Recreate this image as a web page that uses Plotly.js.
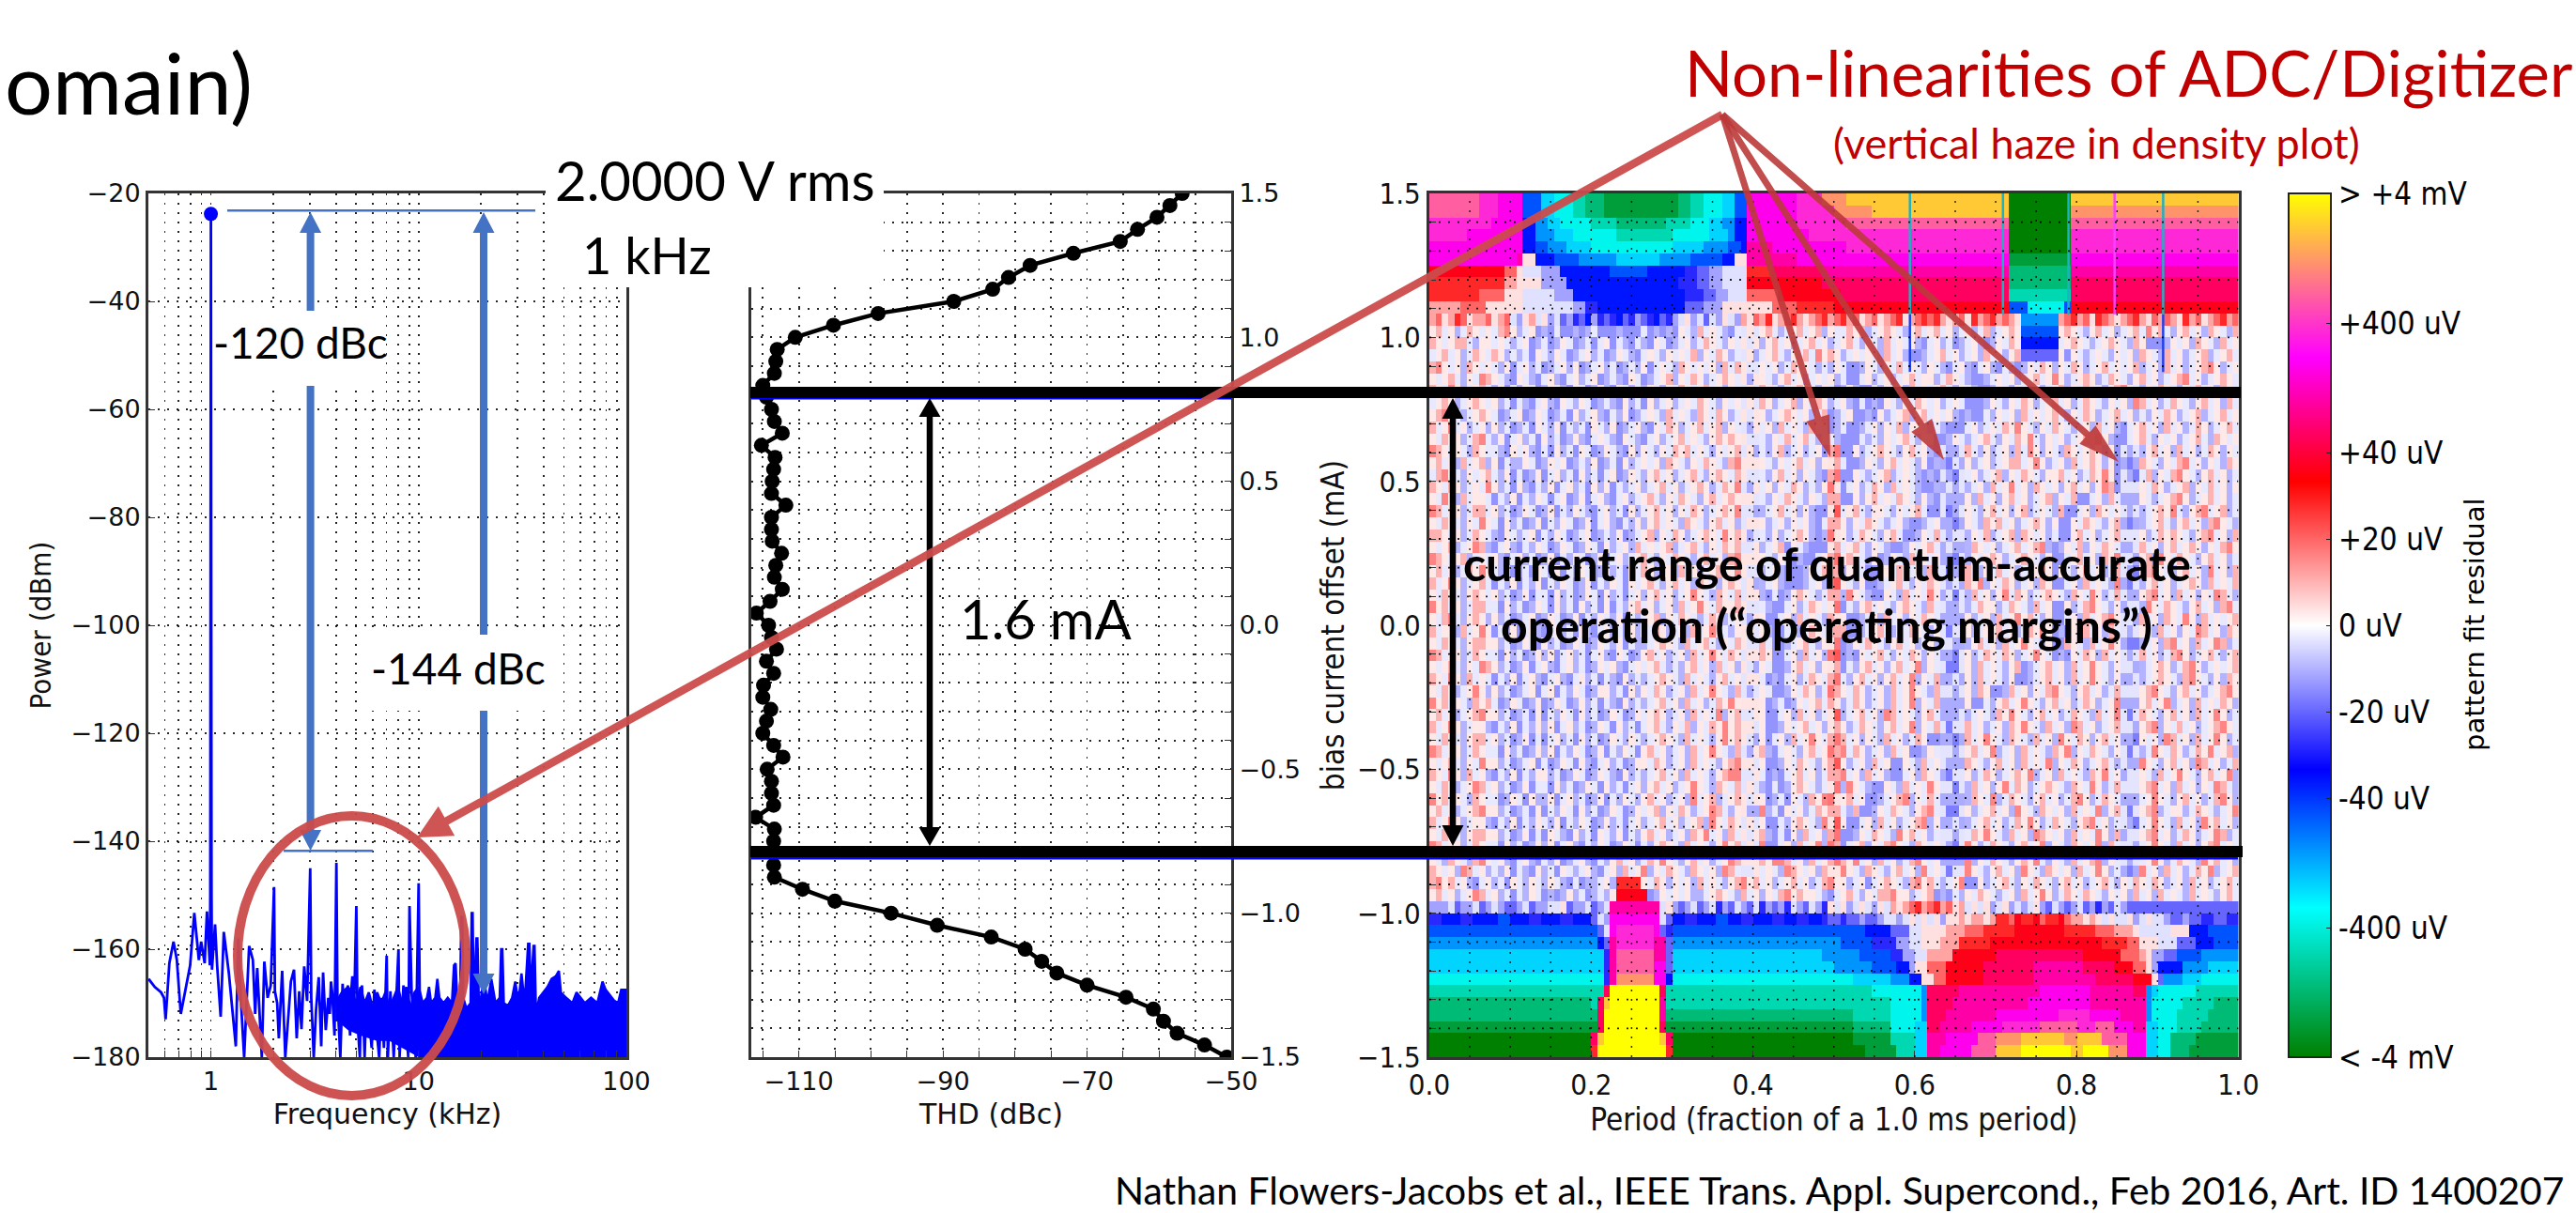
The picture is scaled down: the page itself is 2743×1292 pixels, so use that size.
<!DOCTYPE html>
<html><head><meta charset="utf-8">
<script src="https://cdn.plot.ly/plotly-3.0.0.min.js"></script>
<style>html,body{margin:0;padding:0;background:#fff}#g{width:2743px;height:1292px}</style>
</head><body><div id="g"></div>
<script>
const W=2743,H=1292;
// ---- spectrum (log10 kHz, dBm)
const specLogF=[-0.30,-0.27,-0.24,-0.226,-0.218,-0.20,-0.18,-0.164,-0.145,-0.10,
-0.08,-0.058,-0.047,-0.03,-0.019,-0.005,-0.003,0,0.003,0.005,
0.02,0.03,0.047,0.062,0.086,0.12,0.132,0.145,0.16,0.184,
0.202,0.213,0.223,0.245,0.257,0.273,0.288,0.304,0.308,0.319,
0.327,0.343,0.358,0.374,0.385,0.40,0.413,0.425,0.436,0.449,
0.463,0.478,0.483,0.495,0.506,0.519,0.531,0.54,0.553,0.565,
0.572,0.578,0.584,0.595,0.604,0.609,0.616,0.623,0.634,0.640,
0.646,0.652,0.659,0.67,0.675,0.681,0.69,0.70,0.706,0.717,
0.722,0.727,0.733,0.74,0.748,0.755,0.764,0.774,0.787,0.80,
0.81,0.821,0.833,0.846,0.852,0.864,0.88,0.903,0.908,0.927,
0.95,0.956,0.966,0.986,1.0,1.008];
const specP=[-165.5,-167,-168,-169,-173,-162.6,-158.6,-162,-172,-163,
-153.3,-162,-158.6,-162.6,-153,-163,-150,-23.5,-150,-163.8,
-155.4,-163,-172.5,-156.8,-164.3,-178,-158,-170,-180,-159.4,
-162,-172,-163.5,-180,-162.3,-169,-166.7,-148.5,-167.8,-170,
-176.5,-164,-180,-172.5,-166,-163.8,-176.5,-167.8,-174.8,-163.2,
-169.6,-145,-169,-180,-171.3,-165.2,-178,-164.3,-175,-169,
-172,-166,-168.1,-176,-144,-169,-174,-180,-166.4,-171,
-168,-172.5,-166.7,-176,-168,-165,-170,-152,-173.6,-180,
-169,-166.7,-172,-180,-170,-169,-174,-178.3,-167.5,-176,
-180,-169,-178.3,-161.2,-180,-167.8,-180,-160,-180,-166.7,
-180,-152,-167.8,-180,-147.8,-180];
const floorLogF=[0.60,0.66,0.72,0.80,0.86,1.0,2.0];
const floorP=[-173,-175,-176,-177,-177,-180,-180];
const envLogF=[0.60,0.63,0.66,0.68,0.70,0.72,0.74,0.76,0.78,0.80,0.82,0.84,0.86,0.88,0.90,0.92,0.94,0.96,0.98,1.0,1.02,1.04,
1.05,1.06,1.08,1.09,1.10,1.12,1.14,1.16,1.17,1.178,1.185,1.2,1.205,1.21,1.215,1.23,1.25,1.255,1.26,1.265,
1.278,1.283,1.29,1.3,1.315,1.33,1.35,1.37,1.39,1.397,1.403,1.41,1.43,1.45,1.465,1.48,1.495,1.51,1.527,1.533,
1.54,1.553,1.558,1.565,1.58,1.6,1.62,1.64,1.66,1.675,1.685,1.71,1.74,1.76,1.78,1.8,1.83,1.86,1.885,1.9,
1.92,1.94,1.96,1.975,2.0];
const envP=[-170,-168,-167,-168,-170,-167,-170,-168,-171,-168,-170,-168,-171,-169,-167,-170,-167,-171,-168,-167,-170,-169,
-167,-170,-169,-165.5,-169,-170,-169,-170,-163,-162.6,-169,-168,-154,-154,-169,-171,-170,-153.3,-153.3,-170,
-158,-158,-170,-169,-165,-170,-165.5,-170,-169,-160,-160,-170,-170.5,-169,-166,-170,-164.5,-170,-159,-159,
-168,-159.4,-159.4,-172,-169,-168,-167,-165.5,-165,-164,-168,-169,-170,-168,-169,-170,-169,-170,-166,-167.5,
-168.5,-169.5,-170,-167.5,-167.5];
const carrierF=[1], carrierP=[-23.8];
const freqTicks=[0.6,0.7,0.8,0.9,1,2,3,4,5,6,7,8,9,10,20,30,40,50,60,70,80,90,100];
const freqLabels=['','','','','1','','','','','','','','','10','','','','','','','','','100'];

// ---- THD vs bias current
const thdBias=[1.5,1.458,1.417,1.375,1.333,1.292,1.25,1.208,1.167,1.125,1.083,1.042,1.0,0.958,0.917,0.875,0.833,0.792,0.75,0.708,0.667,0.625,0.583,0.542,0.5,0.458,0.417,0.375,0.333,0.292,0.25,0.208,0.167,0.125,0.083,0.042,0,-0.042,-0.083,-0.125,-0.167,-0.208,-0.25,-0.292,-0.333,-0.375,-0.417,-0.458,-0.5,-0.542,-0.583,-0.625,-0.667,-0.708,-0.75,-0.792,-0.833,-0.875,-0.917,-0.958,-1.0,-1.042,-1.083,-1.125,-1.167,-1.208,-1.25,-1.292,-1.333,-1.375,-1.417,-1.458,-1.5];
const thdVal=[-56.8,-58.5,-60.3,-63,-65.4,-71.9,-77.9,-80.9,-83.1,-88.5,-99,-105.2,-110.5,-113,-113.2,-113.4,-115,-114.5,-113.8,-113.4,-112.3,-115.2,-113.3,-113.5,-113.7,-113.8,-111.8,-113.8,-113.8,-113.7,-112.4,-113.2,-113.4,-112.3,-114,-115.9,-114.2,-113.8,-113.1,-114.5,-113.5,-114.9,-115,-113.9,-114.5,-115,-113.5,-112.2,-114.4,-113.8,-113.8,-113.5,-116,-113.4,-113.5,-113.5,-113.5,-113.4,-109.5,-105,-97.2,-90.8,-83.3,-78.6,-76.3,-74.2,-70,-64.6,-60.8,-59.4,-57.5,-53.7,-50.6];
const thdGridX=[-115,-110,-105,-100,-95,-90,-85,-80,-75,-70,-65,-60,-55,-50];
const thdLabels=['','−110','','','','−90','','','','−70','','','','−50'];
const biasTicks=[-1.5,-1.4,-1.3,-1.2,-1.1,-1.0,-0.9,-0.8,-0.7,-0.6,-0.5,-0.4,-0.3,-0.2,-0.1,0,0.1,0.2,0.3,0.4,0.5,0.6,0.7,0.8,0.9,1.0,1.1,1.2,1.3,1.4,1.5];
const biasLabels=['−1.5','','','','','−1.0','','','','','−0.5','','','','','0.0','','','','','0.5','','','','','1.0','','','','','1.5'];
const periodGrid=[0.05,0.1,0.15,0.2,0.25,0.3,0.35,0.4,0.45,0.5,0.55,0.6,0.65,0.7,0.75,0.8,0.85,0.9,0.95];
const periodTicks=[0,0.2,0.4,0.6,0.8,1.0];
const periodLabels=['0.0','0.2','0.4','0.6','0.8','1.0'];

// ---- density plot: letter = colour level a..z, optional run length; top row first
const COLS=130, ROWS=72;
const upperRows=[
"w8 v3 u4 h3 f2 e3 d2 c3 b12 c2 d2 e3 f2 h2 u8 v4 x4 y26 a10 y27",
"w8 v3 u4 h3 f2 e3 d2 c3 b12 c2 d2 e3 f2 h2 u8 v6 x6 y22 a10 x27",
"v10 u5 i2 g2 f2 e5 d4 c8 d4 e3 f2 g2 i2 u8 v8 w26 a10 w27",
"v6 u9 i2 g3 f3 e7 d9 e6 f3 g1 i2 u10 v32 a10 v27",
"u15 i2 h2 g3 f4 e13 f5 g4 h2 i1 t4 u12 v26 a10 v27",
"u14 t1 n2 i3 h4 g6 f7 g5 h5 i2 n2 t8 u34 b10 u27",
"r12 p2 n1 m3 l3 i8 h6 i6 j2 k2 l2 m4 q4 s8 t30 c10 t27",
"q12 o2 n1 n3 l4 i18 j3 k2 l2 m4 r12 s30 c10 s27",
"q8 p4 n3 m5 l3 i18 j3 k2 l2 m3 p5 r10 s27 d10 s27",
"o5 p4 n6 m8 l2 j2 i14 k3 l3 n4 n4 p4 q6 r28 h3 e6 h1 r27",
"opnoqpnoop nopmlnomnl mkljkiljkj ikjlkjikjl mnlmkmlnml onpoqnopqo nopqopqopn opnopqnopq pqonopnqop qoponpqnop nopqopnqpo nopqonpopo nqopnopqop"
];
// each row: 13 groups of 10 columns
const noiseRows=[
"nomnlmonmn mopnlmnklk mjkljlmkjk lijkmkljlk nmlomnmlkm nomnomlmno mnolnmmono lmnonmlnom nomnlmnlmo lmnonmlomn mnonmlnomn lmnompnoml nomnlonmlo",
"onmnoomlnn mnmlmnklmk lnmklmkmnk mlkmlknmkl mnlmonmlnm onmlnomnlm nomnlmnoml nmlomnmnlk mnlmklmnlk lnmonmlnom lmnonmlmno nmlonjkjln mnlonmlomn",
"mnomnlmonm onlmlmknml nmklmnlmkl nmlkmnmlnm nmolnmonlm mnlmnomlnm ompnonlmnm nmlomnlkkl mnomnlmnlo mnlnomnlmk lnjnmlmnml nmnlonmlom nlmnolmnom",
"opnmnlonmn mlnkmnlmkl mnlnklmnlm klmlnkmnml onmnmnlomo nponmnlmon nmlmlnmkjl nmlnmomnml nmlkmnlkmn lkmlklnmon lnmonlmnom nmnolmnlom nlmnopnlmn",
"nmnomlnmpo nmlknmlkmn lkmnlmnklm lknmklmnol nmonlmnonm nmqnmlnomn lmnmnlmkkm nlmnlmnomn nlmonmlkjl mnmnlmnomn pnlmnonlmo nmlnomnlmn opmnlmnonm",
"onmpnlmnom lnkmlnmkln mlknmklnlk nmlmlnmlnm onmnomnlnm nqponmlmno nmlnmklnlk kmlnmnlomn mnomlnmlkj lnmlnmonlm nolnmonmln opnmlnmonm lnmomnlonm",
"mnonlmnonm nlmkmlkmnl knmlnmklml knlmknlmnl mnmonmlnmn opqonlmnol nmonlmnlkm jlknmlnmon mnlmnmkkjl nmlnmonlmn omnlmonmln mnlpomnlmo nmlnomnlom",
"nopnmlmnon mklmnklnmk lmknlmnlkm lnklmnmlom nmlonmonlm qomnlmnonm nlmoklmnkj lknlmnolno mnmnlkljkm lnmnlomnmn omlnmonlmn omnlmlnmon lmnolmnomn",
"omnpmnlmnl nlmklmknml nkmlmknmln klmnlknmon lmnomnolnm ponmnlomnm lonmklmkjl mnlnmolnnm lmlkkjmnlm nmonpnmlnm onmlmnlomn lkmnomnlom nlmonlmnom",
"nmonnlmopm lnkmnlmknl mklnlkmnml knmlkmnlmn omnmlnonon qpnmlnmomn omlnmljkkm lmlnmnomln mkjlnmlmno mlnmonpmln mnlmnoopnl jkmnomlnmn lmnomlonmn",
"ponmnmlonm mlknmnlkmk nlmknmklnm lknlnmlnmo nomnmlnmno pqnmlnolmn lmnkmlkjnl mnonmlnomn lkjlmnomln lmnlompnln mlonmnonln kkmnlnomnl omnlmonlnm",
"nomnlomnol nkmllnmkln mnklmlnklm knlmnmnlon mlnmonmlop qponmlnmno mnlnlkmjkl nmlnomnmln kljnmonlmn lmnoomnpnl mnlomnonln kljmonmlnm opmnlnmlon",
"mopnmlnmno mlnkmklnkm nlmknlmkmn klnmlnomnl mnomlnonmo pqnmlnomnl nmlkklkjnm lmnolmnmlk ljnmonmnlm nolnmonmln nomnlmonpn jklnmolnmo pnmlnomnlm",
"onmonlmnmp nlmknlkmln kmnlmknlnk mlmnlmnomn lmnonlmonp onlmnlnmon lmlnjkjmnl monlomnmlk jlnmonlmnl omnpmnlonm nlnomnlnpo kjmlnmonlm nolnmomnln",
"nmpnlomnnm kmlnkmlnmk mnklnkmnlk mnlmnomlnm onmlnomnon qnpmlnmonm lnmlkmjknl nomnmonmln lkjnlmnlom nlnomnlmno lnmokjmnlo mnlonmlmno pnlmnomnlm",
"pomnnlmoom nlmklnmkln kmlnmlkmnl mknlmnomnl nmonlmnonq ponlmnomnl nlkjlkmnom lnnmlnmnom kjlnmonmln omnlnolmnm lokjmnlonm nomnlmnonp mlnopmnolm",
"nmonmlnmpn mknlmklnkm lnmklnkmnl kmlnlnomnm lonmlnomnl oqonlmnlnm nlkmjknlnm onmlmnlkjl mnlmnonmlo nomnlmnonl nkjnmonmln opnmlmnoml nomnlopnml",
"oonmnlmonm lknmlmnkml nmklmnklml nklmnolnmo nlmnonmpno nqnmlnlmno nlkljknlmo nmlnomkjln monmlolnmo lmnolonmnl mkjnomnlmn onpmnlmono nmlnopmnlo",
"nmnolmnpol kmnlkmlnmk lnmklnmknl mnlomnmnol mnomlnmono pqnlmnoknm lkjklnmnom lnmlkjlnmn omnlmnlonm nlmnomnopl jlnmolnmon mlnpomnlno mnonlnmopn",
"ponmnolmnm nlkmnlmkln kmlnmklnkm nlmnomlnmo nmlnomnlop qopnmlnmkl kjmnlmnonm lnklnmlomn mnlmomlnmn onlmnonmln jkmnomnlon pmnlnolpnm onmlnomnlm",
"nomnlmonpn mlnklmknml nkmlnmklnl mknmonlmnl omnlmnomnp qonlmnlkjk lnmonmlnom kjlnmonmnl omnlmnomln momnlmonpn jnmlnomnlm onmlnopnml nomnlpmnlo",
"omnpnlmnom kmlnkmlnkm lnmklnkmln mknmnomlno mnlonmlnon qpnlmnlkjk lmnlmonmln kjlmnomlnm onmlnmonpl nmonlmnlon kjmnlomnml ponmlnomnl mnonlomnmo",
"nmonmlnonm nlmklnkmmk nlmklnmknl mkmnlnomnl mnpnmlonmo qpnljmklno nmlmonlpnm lkjnmlomnm pnlonmlomn lnpmonlmno nmlonmpnlm onlmnopmnl omnlnmpoml",
"pnomnlmoom mknlmklnmk nlmknlmknk mlnomnlmnl omnpnmonno qpnmlkjmnl monmlnkmln omnmlnonml omnlmnlmon nlmonmlomn kjnlmopnml nomnlpnmon mlnomnlopm",
"nmopmlnonl nlmklmnkln mklnkmlnml nkmlmnolnm onmlmonlmn pqonkjmnlo mnmlmonkjl mnlomnlnmo nmlnomnlmn lomnpnomln kjmnlomnop nmlnomnlon mpnlomnmno",
"omnnlomnpn kmlnkmnlkm nlmknlkmnl mknlnmonlm nlomnpnmln oqonlkjmnl monmlnokjl mnomlnmonm lnmlomnlmn nomnlmonpn kljnmomnlo mnopnmlomn lnmpomnlon",
"nmonmlnoon nlmklnmknl mklnmklnml nkmllmnonm lomnomlnmo npqomkjlmn omlnmkjlnm onmlnomnlm nlomnmlnom nlomnpnmln kjonmlomnp nomnlmnlop mnlomnpolm",
"pomnnlmonm mknlmklnln kmnlmkmnlk nmklnomnlm nlomnpnmon oqponkjmnl omnlnmkljn mnomlnmonl nmlnomnlmo nmonlmnpnm kljnmonlom nmlnomnlmo pnlmnomlno",
"nmnomlnmpo nlmklnkmnl kmnlmklnmn lkmnmnomlm lnomnlomnl nqpnmjklno mnlnojkmln omnlnomnpl nmonlmnlom nmlnoklmno mnlomnpnml nomnlmnonl mopnlmnmno",
"onmpnlomnm kmlnkmnlkm nlkmnlmkml knlmlmnonm lomnmlnomn pqnmkljmnl monmlkmlno mnlnomnpln momnlmnlom nmlnkjlmno mnlomnpnml nomnlmnonm lopnmlnlon",
"nmonlmnpnl nlmklmnkmn kmlnmklnnl mknlnmonlm nlomnpnmlo opqnmjklnm onlmklnmon lmnlomnpnm lomnlmnlon jklomnlnmo pnmlnomnlm onlmnopnml nomnlmnopn",
"pnomnmlono mklnmklnkl nmklnlmkml knlmlmnomn lomnlmonpn oqonklmjln mnomnmlmon lmnlomnpln momnlmnkjm lnomnpnmln omnlmonlmn pnmlnomnpl mnlomnmonl",
"nomnlmnopn nlmklmknkm lnmknlmkln mklnmnonlm nlomnmplno opqnkjmnlo mnlmnolmno mnlpomnmln omnlkjlmnm lonpnmlnom nlmonmlomn plnmonmlno mnlomnpnlm",
"omnpnlmnnl kmlnkmlnln kmnlmklnmk nlmkmnomln molnmonpno qponjklnmn omnlomnlmo nmlnomnpln mokjlnomnl mnlonpnmlo mnlpomnlmn onmlnoplnm omnlmnopnm",
"nmonmlnoom nlmklnkmkm nlmknlmkln mlnmlmnonm lomnmlnpno oqpnkmnlom npnmlnomnl nmlomnlmon kjlmnlomnp nmlonmlomn lpnmonlnom nmlonmnlpo mnlomnpnlm",
"pomnnlmonm mknlmklnln kmlnmklnkm lnmknomnlm nlomnpnmlo npqolkmnml nomnlnpmon lmnlomnkjl nmonmlnomn plmnlomnml onplnmonml nomnlmpnmo nlmonpmnol",
"nmnomlnmpn nlmklmnkmk lnmknlkmnl mklnnmonlm nlomnmlnop oqonkjlnmo nmlnomnlmn lomnkjnmlo mnpnlmonml nomnlomnmp lnmonlmnom lnmopnmlno mnlpomnlmo",
"onmpnlomnl kmlnkmlnnl mklnmklnml knlmlmnomn lomnmlnopq npnmkljmno mnlmonpmnl omnlkjmnlo nmlpomnlmo nlmnonplmn lomnmlonpm nlmonmlomn pnmlnomnpl",
"nmonlmnpom nlmklnkmmk nlmklnmknl mkmnlnomnl mnpnmlonmo qpnljmklno nmlmonlpnm lkjnmlomnm pnlonmlomn lnpmonlmno nmlonmpnlm onlmnopmnl omnlnmpoml",
"pnomnmlonm mklnmknlln kmnlmklnkm lnmlnomnlm nlpmnolmno oqpnklmjnm lonplmnomn kjlmnoplnm omnlmnlonm plmonmlnom nlmopnlmon mlnomnpnml nomnlmopnl",
"nomnlmnopn nlmklmknkm lnmknlmkln mklnmnolnm onlmnpomln nqoplmknmn lmonpnmlok jlnmonmlno pmnlomnlmn omnlpnmlon mnlomnmpln omnlnoplmn nlmonmlmnp",
"omnpnlmnnl kmlnkmlnml nkmlnmklnl mkmnlmnomn lmnolpnmon opqnjkmlno nmlpomnkjm nlomnlmnop lnmonplmno mnlmonpnlm onmlnopmnl mnlomnpnml omnlpnomnl",
"nmonmlnoon nlmklnkmkn mlknlmknml nkmlnomnlm nlonpmnlom pqnolkmjnl omnlmokjln monmlpnomn lmnonlmonp nmlomnlpon mnlomnmpnl omnlnopmnl monlmnpolm",
"pomnnlmonm mknlmklnln kmnlkmlnmk lnmkmlnonm lomnmlnpno oqnpkjmnlo mnplmjkmno lnmopnmlon mnlomnpnlm onmlnomnpl nmlonmnplo mnlomnpnml omnlnopmnm",
"nmlonmlopn mnlkmnlkml nklmnlkmln omnlmonpnm lnomnlmnpo nmlonpqomn lomnmlonpm nlomnlmopn mnlomnplnm onmlnonpml nmlomnopln mnlomnpnlm onmlpnomnl",
"onmnlpomnl mlnkmlknlm knmlmnlkmn lomnplnmon mlonmnlpom nlomnmlpon mnlomnpnml onmlnomnlp mnlomnpnml nomnlpnmlo nmnlomnpnl mlonpmnlom nlmonplmno"
];
// vertical haze below about 0.6 mA: per column one level per noise row, '.' = leave as is
const hazeCols=[50,51,52,64,65,82,83,84,85,111,112,113];
const hazeLevels=[
"mnmnnmmnmnmnnmnmmnmnnmmnmnnmnmmnmnnmnmmnnmnmnmn",
"nmnmlnnmlmnnmlnmnlmnmnnmlnmnmnlnmnmlnmnmlnmnnml",
"mnlmnmmnnmlnmnmlnmnnmlnmnmmnlnmnnmlnmnmnlmnmnnm",
"..........onoponopnooponoonpnoponnopoonponoponn",
"..........popnoqonopoqopnopqoponqopoqopnoqpopno",
"..........mlmlmmlmllmmlmlmmlmlmllmlmmlmlmlmmlml",
"..........lklmlkllmlklmllkmlklmllklmlkmlklmllkl",
"..........lmklllkmlklmkllmlkkmlllmkllmklkmlklmk",
"..........mlmmlmlmlmmlmmlmlmmlmlmmlmlmmlmlmmlmm",
"..........mlmmlmlmlmmlmlmmlmmlmlmmlmmlmlmmlmmlm",
"..........lklmllkmlmlklmmlklmlmlkmlklmmlklmmlkm",
"..........mlkmlmlmmlkmlmlmkmlmmlmlkmlmmlmkmlmlm"
];
const lowerRows=[
"opnomnlkmn lmknmlnmln mlkmkllmnl qqqqnmonln mnlomnmlno pnomnlmnom nlmopnnlmn kmnonmlopn omlmnpjknl mnomlnmonm lnomnlmnom lnmonmonlm nlomnlmnom",
"nomnlmnpom nlmkmlnmkl klnlmklmln rrrrrklnmn mnllmnonml omnlnmopno nnmlkmnoml nmoopnnlmn ojlkmlnmon mlmnlomnpn lmonmonmln mnlomnlomn mlomnmlnom",
"l3 m1 k1 l2 m1 k1 l1 m1 l1 k2 l1 m1 k1 l2 m2 n1 k1 l2 m1 k1 l1 m1 t8 m1 n1 l1 k1 l1 m1 k1 l1 m1 j1 l1 k1 m1 l1 k1 m1 j1 l1 k1 l1 j1 m1 l1 k1 m1 l1 j1 n1 m1 n1 l1 m1 n1 m1 l1 n1 m1 o1 n1 o1 p1 q1 o1 p1 q1 o1 p1 n1 o1 m1 n1 m1 n1 l1 m1 n1 l1 m1 l1 m1 n1 l1 k1 m1 l1 k1 l1 m1 k1 l1 j1 l1 k1 m1 l1 k1",
"j2 i3 j2 i4 h2 i3 j2 i3 j2 i3 k1 m1 l1 u8 m1 k1 i2 j2 i3 h2 i2 j2 i3 j2 i2 j2 i2 j1 k2 j1 k2 l1 k2 l1 m2 l1 m1 n1 m1 n1 m1 n1 l1 n2 o1 n1 o2 n1 o1 q2 p1 r1 q2 r1 p1 q2 r1 p1 o2 n1 o1 n1 m1 n1 m2 n1 l1 m1 n1 m2 l1 k2 l1 k2 j2 k2 j2",
"h27 k1 m1 u1 v6 u1 k1 j1 h31 i4 k3 m2 n4 o3 p3 q5 r8 q5 p3 o3 n1 m5 n3 i3 h4",
"g27 i1 k1 t1 v6 t2 k1 g27 h5 j4 l2 m2 n3 o3 q5 r18 q4 p2 n3 m3 k3 i3 h3",
"f28 j1 t1 w6 t2 k1 f24 g6 h5 j2 l2 m2 o4 r7 s14 r6 p3 o1 n1 l2 k2 h4 g6",
"f28 j1 t1 w6 u2 k1 f26 g6 h4 i2 l1 n2 p3 r6 s8 t8 s5 r3 p2 n1 l1 i4 g4 f5",
"e28 j1 t1 x6 u2 i1 e29 f6 g3 i2 n2 p2 r6 s8 t10 s6 r3 n1 k1 g3 f3 e7",
"d28 s1 z8 s1 d33 e8 g1 s5 t13 u8 t7 s2 g1 f1 e6 d7",
"c26 d1 s1 y1 z8 t1 d30 d6 e5 g1 s4 t12 u10 t9 g1 e5 d5 c4",
"c27 s1 z9 t1 c30 d6 e5 g1 s3 t8 u10 v5 u5 t4 g1 e4 d5 c5",
"b27 s1 z9 s1 b30 c6 e4 f2 s2 t5 u5 v6 w6 v3 w3 u3 t2 f2 e3 d4 c6",
"a26 s1 y1 z9 y1 s1 a29 b6 d4 f2 t3 u5 w3 x4 y7 x2 y4 w4 u3 f2 e2 c4 b7",
"a26 q1 z11 q1 a31 b5 d3 f2 t2 u5 w4 y4 z8 y2 z4 x3 u3 f2 e2 c3 b8"
];
// plume under the green column: row index, level
const plumeRows=[10,11,12,13];
const plumeLevels=['g','h','i','k'];
const plumeCols=[95,96,97,98,99,100];
const noiseLevel={i:.43,j:.43,k:.43,l:.45,m:.485,n:.515,o:.55,p:.58,q:.58};
const residualScale=[[0,'#008000'],[0.173,'#00ffff'],[0.333,'#0000ff'],[0.5,'#ffffff'],[0.666,'#ff0000'],[0.81,'#ff00ff'],[1,'#ffff00']];
const barTicks=[0,0.15,0.30,0.40,0.50,0.60,0.70,0.85,1.0];
const barLabels=['< -4 mV','-400 uV','-40 uV','-20 uV','0 uV','+20 uV','+40 uV','+400 uV','> +4 mV'];
// thin vertical streaks in the upper band
const streakPeriod=[0.594,0.709,0.79,0.847,0.907];
const streakTop=[1.5,1.5,1.5,1.5,1.5];
const streakMid=[1.08,1.08,1.08,1.08,1.08];
const streakEnd=[0.88,1.08,1.08,1.08,0.88];

const lev=c=>(c.charCodeAt(0)-97)/25;
function decode(s,soft){const out=[];const re=/([a-z])(\d*)/g;let m;
 while((m=re.exec(s))){const n=m[2]?+m[2]:1;const v=(soft&&m[1]!='q'&&m[1]!='r'&&noiseLevel[m[1]]!==undefined)?noiseLevel[m[1]]:lev(m[1]);for(let i=0;i<n;i++)out.push(v);}
 while(out.length<COLS)out.push(out[out.length-1]);return out.slice(0,COLS);}
function decodeNoise(s){const out=[];s.trim().split(/\s+/).forEach(g=>{const p=(g+g).slice(0,10);out.push(...[...p].map(c=>noiseLevel[c]));});
 return out.slice(0,COLS);}
const noiseMat=noiseRows.map(decodeNoise);
hazeCols.forEach((col,h)=>{noiseMat.forEach((r,i)=>{const c=hazeLevels[h][i];if(c&&c!='.')r[col]=(noiseLevel[c]+lev(c))/2;});});
const need=ROWS-upperRows.length-lowerRows.length;
while(noiseMat.length<need)noiseMat.splice(20,0,noiseMat[40]);
noiseMat.length=need;
const zMat=upperRows.map(s=>decode(s)).concat(noiseMat).concat(lowerRows.map((s,i)=>decode(s,i<2)));
plumeRows.forEach((r,i)=>plumeCols.forEach(c=>{zMat[r][c]=lev(plumeLevels[i]);}));

const fx=p=>p/W, fy=p=>1-p/H;
const DV='"DejaVu Sans",sans-serif', DC='"DejaVu Sans Condensed","DejaVu Sans",sans-serif', LA='Lato,sans-serif';
const traces=[
 {type:'scatter',mode:'lines',x:floorLogF.map(v=>10**v),y:floorP,xaxis:'x',yaxis:'y',line:{width:0,color:'#0000ff'},hoverinfo:'skip',showlegend:false},
 {type:'scatter',mode:'lines',x:envLogF.map(v=>10**v),y:envP,xaxis:'x',yaxis:'y',fill:'tonexty',fillcolor:'#0000ff',line:{width:2.5,color:'#0000ff'},showlegend:false},
 {type:'scatter',mode:'lines',x:specLogF.map(v=>10**v),y:specP,xaxis:'x',yaxis:'y',line:{width:2.8,color:'#0000ff'},showlegend:false},
 {type:'scatter',mode:'markers',x:carrierF,y:carrierP,xaxis:'x',yaxis:'y',marker:{size:15,color:'#0000ff'},showlegend:false},
 {type:'scatter',mode:'lines+markers',x:thdVal,y:thdBias,xaxis:'x2',yaxis:'y2',line:{width:4.5,color:'#000'},marker:{size:16,color:'#000'},showlegend:false},
 {type:'heatmap',z:zMat,x0:0.5/COLS,dx:1/COLS,y0:1.5-1/48,dy:-1/24,xaxis:'x3',yaxis:'y3',zmin:0,zmax:1,colorscale:residualScale,
  colorbar:{x:2437/W,xanchor:'left',y:(H-1126)/H,yanchor:'bottom',len:920/H,lenmode:'fraction',thickness:45,thicknessmode:'pixels',xpad:0,ypad:0,
   outlinewidth:2,outlinecolor:'#222',tickmode:'array',tickvals:barTicks,ticktext:barLabels,ticks:'inside',ticklen:6,tickcolor:'#222',tickfont:{family:DC,size:33,color:'#000'}}}
];
streakPeriod.forEach((p,i)=>{
 traces.push({type:'scatter',mode:'lines',x:[p,p],y:[streakTop[i],streakMid[i]],xaxis:'x3',yaxis:'y3',line:{width:2.5,color:i==3?'#ff40ff':'#20b0c0'},showlegend:false,hoverinfo:'skip'});
 if(streakEnd[i]<streakMid[i])traces.push({type:'scatter',mode:'lines',x:[p,p],y:[streakMid[i],streakEnd[i]],xaxis:'x3',yaxis:'y3',line:{width:2.5,color:'#2040f0'},showlegend:false,hoverinfo:'skip'});
});

function arrow(x1,y1,x2,y2,w,hw,hl,color,op){
 const L=Math.hypot(x2-x1,y2-y1),ux=(x2-x1)/L,uy=(y2-y1)/L,nx=-uy,ny=ux,bx=x2-ux*hl,by=y2-uy*hl;
 const pts=[[x1+nx*w/2,y1+ny*w/2],[bx+nx*w/2,by+ny*w/2],[bx+nx*hw/2,by+ny*hw/2],[x2,y2],[bx-nx*hw/2,by-ny*hw/2],[bx-nx*w/2,by-ny*w/2],[x1-nx*w/2,y1-ny*w/2]];
 return {type:'path',xref:'paper',yref:'paper',layer:'above',path:'M'+pts.map(p=>fx(p[0])+','+fy(p[1])).join('L')+'Z',fillcolor:color,line:{width:0},opacity:op||1};
}
function rect(x0,y0,x1,y1,c,extra){return Object.assign({type:'rect',xref:'paper',yref:'paper',layer:'above',x0:fx(x0),x1:fx(x1),y0:fy(y0),y1:fy(y1),fillcolor:c,line:{width:0}},extra||{});}
const DOT='2px,8px';
const shapes=[];
periodGrid.forEach(p=>shapes.push({type:'line',xref:'x3',yref:'y3',layer:'above',x0:p,x1:p,y0:-1.5,y1:1.5,line:{color:'#000',width:1.5,dash:DOT},opacity:.8}));
biasTicks.forEach(b=>{if(Math.abs(b)<1.5)shapes.push({type:'line',xref:'x3',yref:'y3',layer:'above',x0:0,x1:1,y0:b,y1:b,line:{color:'#000',width:1.8,dash:DOT},opacity:.85})});
// white masks
shapes.push(rect(581,140,941,306,'#fff'));
shapes.push(rect(249,331,410,411,'#fff'));
shapes.push(rect(395,676,585,757,'#fff'));
const BLUE='#4472c4',RED='#cc4b4b',DRED='#bb3a3a',BRED='#c00000';
// blue level lines and arrows
shapes.push(rect(242,223,570,225.5,BLUE));
shapes.push(rect(302,905,397,907.5,BLUE));
shapes.push(arrow(330.6,331,330.6,226,8,23,22,BLUE));
shapes.push(arrow(330.6,411,330.6,906,8,23,22,BLUE));
shapes.push(arrow(515,676,515,226,8,23,22,BLUE));
shapes.push(arrow(515,757,515,1059,8,23,22,BLUE));
// operating margin bars
shapes.push(rect(800,424,1311,425.5,'#0000ff'));
shapes.push(rect(800,913,2383,915.5,'#0000ff'));
shapes.push(rect(799,412,2386,424,'#000'));
shapes.push(rect(799,901,2388,913,'#000'));
shapes.push(arrow(990,662,990,424,6.5,23,20,'#000'));
shapes.push(arrow(990,662,990,901,6.5,23,20,'#000'));
shapes.push(arrow(1547,662,1547,424,6.5,23,22,'#000'));
shapes.push(arrow(1547,662,1547,901,6.5,23,22,'#000'));
// red call-outs
shapes.push({type:'circle',xref:'paper',yref:'paper',layer:'above',x0:fx(253),x1:fx(496),y0:fy(1167),y1:fy(869),line:{color:RED,width:10},opacity:.95});
shapes.push(arrow(1834,122,444,892,8.5,36,36,RED,.95));
shapes.push(arrow(1834,122,1949,487,7,26,44,DRED,.9));
shapes.push(arrow(1834,122,2070,490,7,26,44,DRED,.9));
shapes.push(arrow(1834,122,2256,492,7,26,44,DRED,.9));

function note(t,x,y,size,color,opt){return Object.assign({xref:'paper',yref:'paper',x:fx(x),y:fy(y),text:t,showarrow:false,font:{family:LA,size:size,color:color||'#000'},xanchor:'center',yanchor:'middle'},opt||{});}
const annotations=[
 note('omain)',271,87,90,'#000',{xanchor:'right'}),
 note('2.0000 V rms',761,192,58),
 note('1 kHz',689,271,54),
 note('-120 dBc',320,365,46),
 note('-144 dBc',488,711,46),
 note('1.6 mA',1114,658,58),
 note('Non-linearities of ADC/Digitizer',2266,77,67,BRED),
 note('(vertical haze in density plot)',2232,152,45,BRED),
 note('<b>current range of quantum-accurate</b>',1945,600,50),
 note('<b>operation (“operating margins”)</b>',1945,666,50),
 note('Nathan Flowers-Jacobs et al., IEEE Trans. Appl. Supercond., Feb 2016, Art. ID 1400207',1185,1267,40.8,'#000',{xanchor:'left'}),
 note('pattern fit residual',2635,665,29,'#000',{textangle:-90,font:{family:DV,size:29,color:'#000'}})
];
const yd=[(H-1126)/H,(H-206)/H];
const axC={linecolor:'#333',linewidth:3,mirror:true,zeroline:false,tickcolor:'#333',ticks:'inside',ticklen:7,tickfont:{family:DV,size:27,color:'#111'}};
const grid={showgrid:true,griddash:DOT,gridcolor:'rgba(0,0,0,.85)',gridwidth:1.8};
const t=(s,st,size,fam)=>({text:s,standoff:st,font:{family:fam||DV,size:size||27,color:'#111'}});
const layout={width:W,height:H,margin:{l:0,r:0,t:0,b:0},paper_bgcolor:'#fff',plot_bgcolor:'#fff',showlegend:false,shapes,annotations,
 xaxis:Object.assign({},axC,grid,{type:'log',domain:[158/W,667/W],range:[-0.301,2],tickmode:'array',tickvals:freqTicks,ticktext:freqLabels,anchor:'y',title:t('Frequency (kHz)',10,30)}),
 yaxis:Object.assign({},axC,grid,{domain:yd,range:[-180,-20],dtick:20,anchor:'x',title:t('Power (dBm)',12,31,DC)}),
 xaxis2:Object.assign({},axC,grid,{domain:[800/W,1311/W],range:[-116.6,-50],tickmode:'array',tickvals:thdGridX,ticktext:thdLabels,anchor:'y2',title:t('THD (dBc)',10,30)}),
 yaxis2:Object.assign({},axC,grid,{domain:yd,range:[-1.5,1.5],side:'right',tickmode:'array',tickvals:biasTicks,ticktext:biasLabels,anchor:'x2',title:t('bias current offset (mA)',24,33,DC)}),
 xaxis3:Object.assign({},axC,{domain:[1522/W,2383.5/W],range:[0,1],tickmode:'array',tickvals:periodTicks,ticktext:periodLabels,anchor:'y3',showgrid:false,tickfont:{family:DC,size:31,color:'#111'},title:t('Period (fraction of a 1.0 ms period)',8,33,DC)}),
 yaxis3:Object.assign({},axC,{domain:yd,range:[-1.5,1.5],tickmode:'array',tickvals:biasTicks,ticktext:biasLabels,anchor:'x3',showgrid:false,tickfont:{family:DC,size:31,color:'#111'}})
};
Plotly.newPlot('g',traces,layout,{staticPlot:true,displayModeBar:false});
</script></body></html>
